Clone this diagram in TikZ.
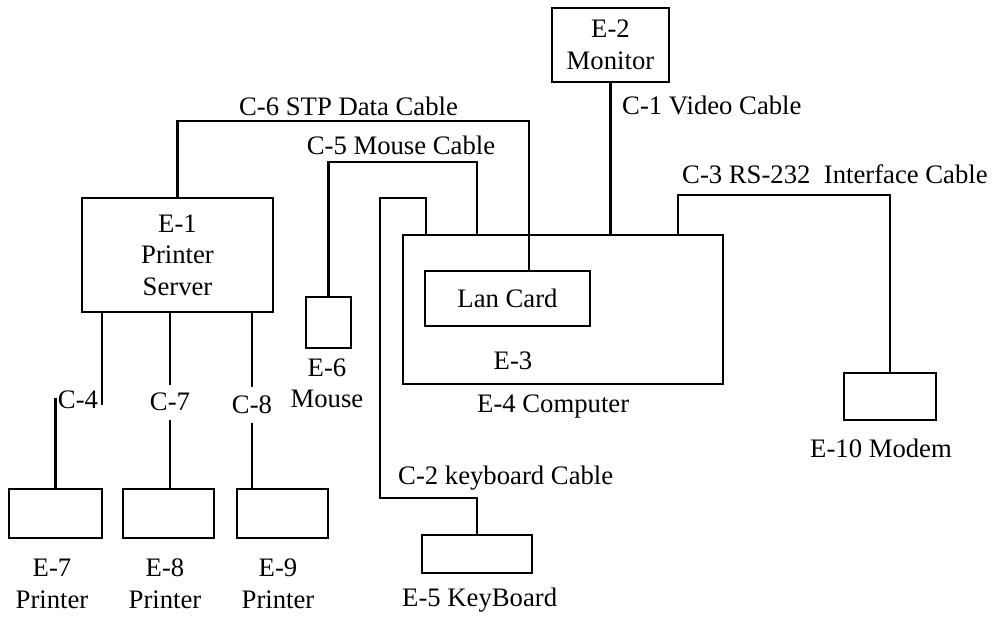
\documentclass[tikz,border=0pt]{standalone}
\usepackage{fontspec}
\setmainfont{Liberation Serif}
\begin{document}
\begin{tikzpicture}[x=1pt,y=-1pt,
  every node/.style={font=\fontsize{26.7}{31.5}\selectfont},
  box/.style={draw,line width=2.3pt,rectangle,inner sep=0pt,align=center},
  lbl/.style={inner sep=0pt,align=center},
  cable/.style={line width=2.1pt}]
\useasboundingbox[fill=white] (0,0) rectangle (994,617);
% boxes
\node[box,minimum width=191,minimum height=114] (e1) at (177.5,255) {E-1\\Printer\\Server};
\node[box,minimum width=117,minimum height=74] (e2) at (610.5,45) {E-2\\Monitor};
\node[box,line width=1.5pt,minimum width=320,minimum height=149] (e4) at (563,309.5) {};
\node[box,minimum width=165,minimum height=55] (lan) at (507.5,298.5) {Lan Card};
\node[box,minimum width=45,minimum height=51] (e6) at (328.5,322.5) {};
\node[box,minimum width=93,minimum height=49] (e7) at (55.5,513.5) {};
\node[box,minimum width=91,minimum height=49] (e8) at (168.5,513.5) {};
\node[box,minimum width=91,minimum height=49] (e9) at (282.5,513.5) {};
\node[box,minimum width=110,minimum height=38] (e5) at (477,554) {};
\node[box,minimum width=92,minimum height=47] (e10) at (890,396.5) {};
% labels of equipment
\node[lbl,anchor=base] (le3) at (513,370) {E-3};
\node[lbl,anchor=base west] (le4) at (477,413) {E-4 Computer};
\node[lbl,anchor=base] (le6) at (327,408) {E-6\\Mouse};
\node[lbl,anchor=base] (le7) at (52,608) {E-7\\Printer};
\node[lbl,anchor=base] (le8) at (165,608) {E-8\\Printer};
\node[lbl,anchor=base] (le9) at (278,608) {E-9\\Printer};
\node[lbl,anchor=base west] (le5) at (402,606) {E-5 KeyBoard};
\node[lbl,anchor=base west] (le10) at (810,458) {E-10 Modem};
% cable labels
\node[lbl,anchor=base] (lc6) at (348.5,116) {C-6 STP Data Cable};
\node[lbl,anchor=base] (lc5) at (401,155) {C-5 Mouse Cable};
\node[lbl,anchor=base west] (lc1) at (622,115) {C-1 Video Cable};
\node[lbl,anchor=base west] (lc3) at (682,184) {C-3 RS-232\ \ Interface Cable};
\node[lbl,anchor=base west] (lc2) at (398,485) {C-2 keyboard Cable};
\node[lbl] (lc4) at (78,400) {C-4};
\node[lbl] (lc7) at (170,402) {C-7};
\node[lbl] (lc8) at (252,405) {C-8};
% cables
\coordinate (c6) at (529,121);
\draw[cable] (e1.north) |- (c6) -- (c6 |- lan.north);
\coordinate (c5) at (477,162);
\draw[cable] (e6.north) |- (c5) -- (c5 |- e4.north);
\coordinate (c2a) at (426,198);
\coordinate (c2b) at (380,498);
\draw[cable] (c2a |- e4.north) -- (c2a) -| (c2b) -| (e5.north);
\draw[cable] (e2.south) -- (e2.south |- e4.north);
\coordinate (c3) at (678,195);
\draw[cable] (c3 |- e4.north) -- (c3) -| (e10.north);
\coordinate (c4a) at (102,405);
\coordinate (c4b) at (55.5,398);
\draw[cable] (c4a |- e1.south) -- (c4a);
\draw[cable] (c4b) -- (e7.north);
\coordinate (c7a) at (170,385);
\coordinate (c7b) at (170,420);
\draw[cable] (c7a |- e1.south) -- (c7a);
\draw[cable] (c7b) -- (c7b |- e8.north);
\coordinate (c8a) at (252,387);
\coordinate (c8b) at (252,423);
\draw[cable] (c8a |- e1.south) -- (c8a);
\draw[cable] (c8b) -- (c8b |- e9.north);
\end{tikzpicture}
\end{document}
